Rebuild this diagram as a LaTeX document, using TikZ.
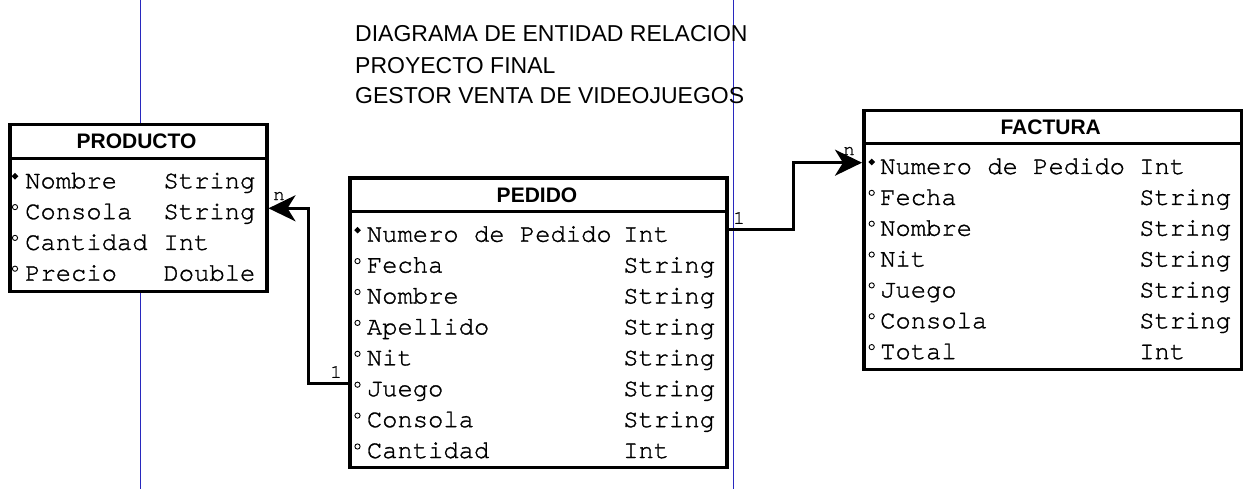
\documentclass[tikz,border=0pt]{standalone}
\usepackage{fontspec}
\setmainfont{Liberation Sans}
\newfontfamily\monof[FakeBold=1.2]{texgyrecursor-regular.otf}
\usetikzlibrary{arrows.meta}
\definecolor{pageblue}{RGB}{40,40,190}
\tikzset{
 entity/.style={draw, line width=3.5pt, fill=white, inner sep=0, anchor=north west},
 sepline/.style={line width=3pt},
 hdr/.style={font=\fontsize{21}{21}\selectfont\bfseries, inner sep=0},
 row/.style={font=\monof\fontsize{25.5}{25.5}\selectfont, inner sep=0, anchor=base west},
 attb/.style={draw=black, line width=0.9pt, fill=white},
 conn/.style={line width=3pt, -{Stealth[length=27pt,width=26pt,inset=8pt]}},
 lbl/.style={font=\monof\fontsize{19}{19}\selectfont, inner sep=0},
 titletext/.style={font=\fontsize{23}{23}\selectfont, anchor=base west, inner sep=0},
 pageline/.style={draw=pageblue, line width=1pt}
}
\newcommand{\keybullet}[2]{\fill (#1-3.3,#2) -- (#1,#2-3.3) -- (#1+3.3,#2) -- (#1,#2+3.3) -- cycle;}
\newcommand{\attbullet}[2]{\draw[attb] (#1,#2) circle (2.6pt);}
\begin{document}
\begin{tikzpicture}[x=1pt,y=-1pt]
\useasboundingbox (0,0) rectangle (1256,489);
% page boundaries
\draw[pageline] (140,0) -- (140,489);
\draw[pageline] (733,0) -- (733,489);
% title
\node[titletext] (t1) at (355,41.7) {DIAGRAMA DE ENTIDAD RELACION};
\node[titletext] (t2) at (355,73.3) {PROYECTO FINAL};
\node[titletext] (t3) at (355,103.3) {GESTOR VENTA DE VIDEOJUEGOS};

% PRODUCTO
\node[entity, minimum width=257pt, minimum height=166.5pt] (producto) at (8,123) {};
\draw[sepline] (producto.west |- 0,158.3) -- (producto.east |- 0,158.3);
\node[hdr] (prh) at (136.5,141) {PRODUCTO};
\foreach \nm/\ty [count=\i from 0] in {Nombre/String, Consola/String, Cantidad/Int, Precio/Double}{
  \pgfmathsetmacro\yy{188.3+30.8*\i}
  \node[row] (pra\i) at (25,\yy) {\nm};
  \node[row] (prt\i) at (163.3,\yy) {\ty};
  \ifnum\i=0 \keybullet{15}{\yy-12}\else \attbullet{15}{\yy-12}\fi
}

% PEDIDO
\node[entity, minimum width=377pt, minimum height=289pt] (pedido) at (348.3,176.5) {};
\draw[sepline] (pedido.west |- 0,211.7) -- (pedido.east |- 0,211.7);
\node[hdr] (peh) at (537,195) {PEDIDO};
\foreach \nm/\ty [count=\i from 0] in {Numero de Pedido/Int, Fecha/String, Nombre/String, Apellido/String, Nit/String, Juego/String, Consola/String, Cantidad/Int}{
  \pgfmathsetmacro\yy{241.7+30.9*\i}
  \node[row] (pea\i) at (366.7,\yy) {\nm};
  \node[row] (pet\i) at (623,\yy) {\ty};
  \ifnum\i=0 \keybullet{357.5}{\yy-11.5}\else \attbullet{357.5}{\yy-11.5}\fi
}

% FACTURA
\node[entity, minimum width=377.5pt, minimum height=258.5pt] (factura) at (862,109) {};
\draw[sepline] (factura.west |- 0,143.3) -- (factura.east |- 0,143.3);
\node[hdr] (fah) at (1050.7,127) {FACTURA};
\foreach \nm/\ty [count=\i from 0] in {Numero de Pedido/Int, Fecha/String, Nombre/String, Nit/String, Juego/String, Consola/String, Total/Int}{
  \pgfmathsetmacro\yy{174+30.85*\i}
  \node[row] (faa\i) at (880,\yy) {\nm};
  \node[row] (fat\i) at (1139,\yy) {\ty};
  \ifnum\i=0 \keybullet{871.7}{\yy-12}\else \attbullet{871.7}{\yy-12}\fi
}

% connectors
\draw[conn] (pedido.west |- 0,383.3) -- (308,383.3) |- (producto.east |- 0,208.3);
\draw[conn] (pedido.east |- 0,230) -- (793.3,230) |- (factura.west |- 0,162.7);
% cardinality labels
\node[lbl] (l1) at (336,372) {1};
\node[lbl] (l2) at (279,196) {n};
\node[lbl] (l3) at (739,218) {1};
\node[lbl] (l4) at (849,151) {n};
\end{tikzpicture}
\end{document}
